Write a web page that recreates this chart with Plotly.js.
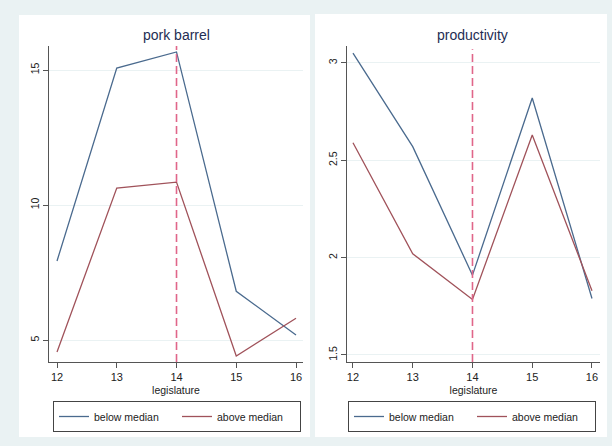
<!DOCTYPE html>
<html>
<head>
<meta charset="utf-8">
<script src="https://cdn.plot.ly/plotly-3.0.1.min.js"></script>
<style>html,body{margin:0;padding:0;background:#eaf2f3;}#chart{width:612px;height:446px;}</style>
</head>
<body>
<div id="chart"></div>
<script>
// Data
const legislature = [12, 13, 14, 15, 16];
const porkBelow = [7.93, 15.07, 15.67, 6.81, 5.19];
const porkAbove = [4.56, 10.63, 10.85, 4.41, 5.81];
const prodBelow = [3.05, 2.57, 1.91, 2.82, 1.79];
const prodAbove = [2.59, 2.02, 1.785, 2.63, 1.83];
const medianLegislature = 14;
const panelTitles = ["pork barrel", "productivity"];
const seriesNames = ["below median", "above median"];
const porkTicks = [5, 10, 15];
const prodTicks = [1.5, 2, 2.5, 3];

const W = 612, H = 446;
const px = v => v / W;
const py = v => (H - v) / H;

const blue = '#4a6a8e';
const red = '#a0525a';
const font = 'Liberation Sans, Arial, sans-serif';

const traces = [
  {x: legislature, y: porkBelow, name: seriesNames[0], type: 'scatter', mode: 'lines', line: {color: blue, width: 1.3}, xaxis: 'x', yaxis: 'y', legend: 'legend'},
  {x: legislature, y: porkAbove, name: seriesNames[1], type: 'scatter', mode: 'lines', line: {color: red, width: 1.3}, xaxis: 'x', yaxis: 'y', legend: 'legend'},
  {x: legislature, y: prodBelow, name: seriesNames[0], type: 'scatter', mode: 'lines', line: {color: blue, width: 1.3}, xaxis: 'x2', yaxis: 'y2', legend: 'legend2'},
  {x: legislature, y: prodAbove, name: seriesNames[1], type: 'scatter', mode: 'lines', line: {color: red, width: 1.3}, xaxis: 'x2', yaxis: 'y2', legend: 'legend2'}
];

const xCommon = {
  tickvals: legislature, ticks: 'outside', ticklen: 5, tickcolor: '#555', tickwidth: 1,
  showline: true, linecolor: '#555', linewidth: 1.2, showgrid: false, zeroline: false,
  tickfont: {family: font, size: 11, color: '#222'},
  title: {text: 'legislature', font: {family: font, size: 10.5, color: '#222'}, standoff: 4},
  fixedrange: true
};
const yCommon = {
  ticks: 'outside', ticklen: 5, tickcolor: '#555', tickwidth: 1, tickangle: -90,
  showline: true, linecolor: '#555', linewidth: 1.2, showgrid: true, gridcolor: '#eaf2f3', gridwidth: 1,
  zeroline: false, tickfont: {family: font, size: 10.5, color: '#222'}, fixedrange: true
};

const yDom = [py(362), py(46)];

const legendCommon = {
  orientation: 'h', xanchor: 'left', y: py(401), yanchor: 'top',
  bgcolor: '#ffffff', bordercolor: '#444', borderwidth: 1,
  font: {family: font, size: 10.5, color: '#222'}, entrywidth: 78, entrywidthmode: 'pixels',
  tracegroupgap: 0, itemclick: false
};

const layout = {
  width: W, height: H,
  paper_bgcolor: '#eaf2f3', plot_bgcolor: 'rgba(0,0,0,0)',
  margin: {l: 0, r: 0, t: 0, b: 0},
  showlegend: true,
  xaxis: Object.assign({}, xCommon, {domain: [px(49), px(303)], range: [11.866, 16.117], anchor: 'y'}),
  yaxis: Object.assign({}, yCommon, {domain: yDom, range: [4.19, 15.89], tickvals: porkTicks, anchor: 'x'}),
  xaxis2: Object.assign({}, xCommon, {domain: [px(347), px(600)], range: [11.9, 16.134], anchor: 'y2'}),
  yaxis2: Object.assign({}, yCommon, {domain: yDom, range: [1.464, 3.087], tickvals: prodTicks, anchor: 'x2'}),
  legend: Object.assign({}, legendCommon, {x: px(53)}),
  legend2: Object.assign({}, legendCommon, {x: px(348)}),
  shapes: [
    {type: 'rect', xref: 'paper', yref: 'paper', x0: px(19), x1: px(310), y0: py(437), y1: py(15), fillcolor: '#ffffff', line: {width: 0}, layer: 'below'},
    {type: 'rect', xref: 'paper', yref: 'paper', x0: px(315), x1: px(607), y0: py(437), y1: py(14), fillcolor: '#ffffff', line: {width: 0}, layer: 'below'},
    {type: 'line', xref: 'x', yref: 'y domain', x0: medianLegislature, x1: medianLegislature, y0: 0, y1: 1, line: {color: '#e0668a', width: 1.6, dash: '8px,4px'}},
    {type: 'line', xref: 'x2', yref: 'y2 domain', x0: medianLegislature, x1: medianLegislature, y0: 0, y1: 0.99, line: {color: '#e0668a', width: 1.6, dash: '8px,4px'}}
  ],
  annotations: [
    {text: panelTitles[0], xref: 'paper', yref: 'paper', x: px(176), y: py(35), xanchor: 'center', yanchor: 'middle', showarrow: false, font: {family: font, size: 14, color: '#1e2d53'}},
    {text: panelTitles[1], xref: 'paper', yref: 'paper', x: px(472), y: py(35), xanchor: 'center', yanchor: 'middle', showarrow: false, font: {family: font, size: 14, color: '#1e2d53'}}
  ]
};

Plotly.newPlot('chart', traces, layout, {displayModeBar: false, staticPlot: true});
</script>
</body>
</html>
